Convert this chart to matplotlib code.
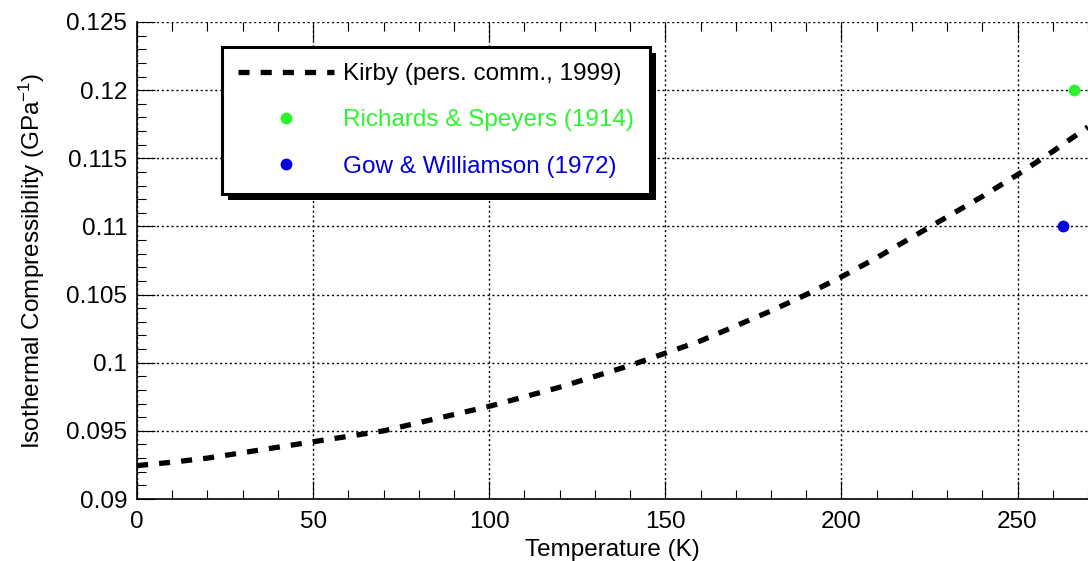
import matplotlib.pyplot as plt
import matplotlib.patheffects as pe
from matplotlib.lines import Line2D
from matplotlib.ticker import MultipleLocator, FuncFormatter

plt.rcParams['font.family'] = ['Liberation Sans', 'DejaVu Sans']
plt.rcParams['mathtext.default'] = 'regular'

# Kirby curve, read every 10 K
temp_k = [0, 10, 20, 30, 40, 50, 60, 70, 80, 90, 100, 110, 120, 130, 140,
          150, 160, 170, 180, 190, 200, 210, 220, 230, 240, 250, 260, 270]
kirby = [0.09245, 0.0927, 0.0930, 0.0934, 0.0938, 0.0942, 0.0946, 0.0950,
         0.0956, 0.0962, 0.0968, 0.0975, 0.0982, 0.0990, 0.0998, 0.1007,
         0.1016, 0.1027, 0.1038, 0.1050, 0.1063, 0.1077, 0.1092, 0.1107,
         0.1122, 0.1138, 0.1155, 0.1173]

richards_t = [266]
richards_k = [0.120]
gow_t = [263]
gow_k = [0.110]

labels = ['Kirby (pers. comm., 1999)', 'Richards & Speyers (1914)',
          'Gow & Williamson (1972)']
green = '#2cf52c'
blue = '#0000dd'
dash = (0, (2.1, 2.1))
fs = 17.5

fig = plt.figure(figsize=(10.88, 5.61), dpi=100)
ax = fig.add_axes([137 / 1088, 1 - 499 / 561, 951 / 1088, 477 / 561])

ax.plot(temp_k, kirby, color='k', lw=3.8, ls=dash, zorder=3)
ax.plot(richards_t, richards_k, 'o', color=green, ms=7.5, zorder=4, clip_on=False)
ax.plot(gow_t, gow_k, 'o', color=blue, ms=7.5, zorder=4, clip_on=False)

ax.set_xlim(0, 270)
ax.set_ylim(0.09, 0.125)
ax.xaxis.set_major_locator(MultipleLocator(50))
ax.xaxis.set_minor_locator(MultipleLocator(10))
ax.yaxis.set_major_locator(MultipleLocator(0.005))
ax.yaxis.set_minor_locator(MultipleLocator(0.001))
ax.yaxis.set_major_formatter(FuncFormatter(lambda v, p: '%g' % round(v, 4)))

ax.grid(True, which='major', color='k', ls=(0, (1.5, 2)), lw=1)
ax.spines['top'].set_visible(False)
ax.spines['right'].set_visible(False)
ax.spines['left'].set_linewidth(1.2)
ax.spines['bottom'].set_linewidth(1.2)
ax.tick_params(which='both', direction='in', top=True, right=False,
               labelsize=fs, width=0.8)
ax.tick_params(which='major', length=13)
ax.tick_params(which='minor', length=6.5)
ax.tick_params(axis='x', which='major', pad=9)
ax.tick_params(axis='y', which='major', pad=7)

ax.set_xlabel('Temperature (K)', fontsize=fs, labelpad=4)
ax.set_ylabel('Isothermal Compressibility (GPa$^{-1}$)', fontsize=fs, labelpad=14)

handles = [
    Line2D([], [], color='k', lw=3.8, ls=dash),
    Line2D([], [], marker='o', ls='none', color=green, ms=7.5),
    Line2D([], [], marker='o', ls='none', color=blue, ms=7.5),
]
leg = ax.legend(handles, labels, loc='upper left',
                bbox_to_anchor=(0.089, 0.9476), borderaxespad=0,
                fontsize=fs, labelcolor=['k', green, blue],
                handlelength=3.95, handletextpad=0.37, labelspacing=1.0,
                borderpad=0.66, numpoints=1, fancybox=False,
                edgecolor='k', framealpha=1)
frame = leg.get_frame()
frame.set_linewidth(2.2)
frame.set_path_effects([
    pe.SimplePatchShadow(offset=(4.3, -4.3), shadow_rgbFace='k', alpha=1),
    pe.Normal(),
])

fig.savefig('out.png', dpi=100)
